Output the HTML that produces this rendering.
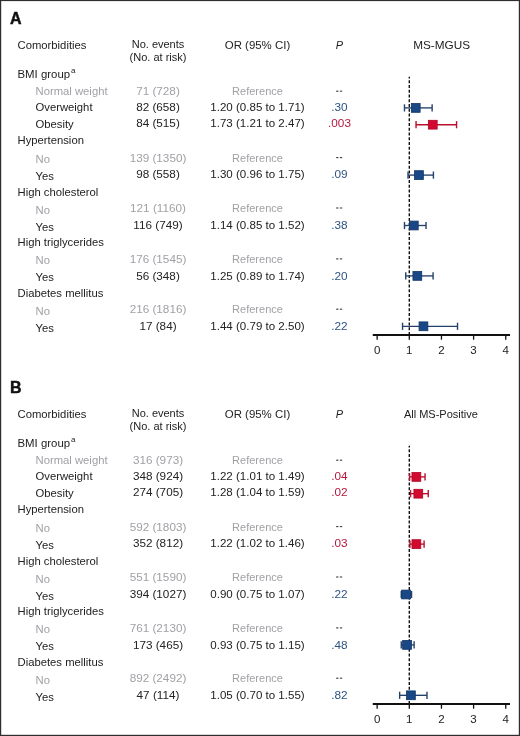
<!DOCTYPE html>
<html><head><meta charset="utf-8"><title>Forest plot</title>
<style>
html,body{margin:0;padding:0;background:#fff;}
body{width:520px;height:736px;overflow:hidden;}
svg{display:block;font-family:"Liberation Sans", sans-serif;will-change:transform;}
</style></head><body>
<svg width="520" height="736" viewBox="0 0 520 736">
<rect x="0" y="0" width="520" height="736" fill="#fff"/>
<g fill="#2e2e2e"><rect x="0" y="0" width="1.2" height="736"/><rect x="518.8" y="0" width="1.2" height="736"/><rect x="0" y="0" width="520" height="1.1"/><rect x="0" y="734.8" width="520" height="1.2"/></g>
<text x="10" y="24.10" font-size="16" font-weight="bold" fill="#111" stroke="#111" stroke-width="0.45">A</text>
<text x="17.50" y="49.00" text-anchor="start" fill="#222222" font-size="11" textLength="68.93" lengthAdjust="spacingAndGlyphs">Comorbidities</text>
<text x="158.00" y="47.60" text-anchor="middle" fill="#222222" font-size="11">No. events</text>
<text x="158.00" y="61.10" text-anchor="middle" fill="#222222" font-size="11">(No. at risk)</text>
<text x="257.50" y="48.80" text-anchor="middle" fill="#222222" font-size="11" textLength="65.47" lengthAdjust="spacingAndGlyphs">OR (95% CI)</text>
<text x="339.50" y="48.90" text-anchor="middle" fill="#222222" font-size="11" font-style="italic">P</text>
<text x="441.60" y="48.80" text-anchor="middle" fill="#222222" font-size="11" textLength="56.88" lengthAdjust="spacingAndGlyphs">MS-MGUS</text>
<text x="17.50" y="77.80" fill="#222222" font-size="11"><tspan textLength="52.6" lengthAdjust="spacingAndGlyphs">BMI group</tspan><tspan font-size="8" x="70.90" dy="-4.6">a</tspan></text>
<text x="35.50" y="94.50" text-anchor="start" fill="#a0a1a5" font-size="11" textLength="72.06" lengthAdjust="spacingAndGlyphs">Normal weight</text>
<text x="35.50" y="111.10" text-anchor="start" fill="#222222" font-size="11" textLength="57.02" lengthAdjust="spacingAndGlyphs">Overweight</text>
<text x="35.50" y="127.80" text-anchor="start" fill="#222222" font-size="11" textLength="38.22" lengthAdjust="spacingAndGlyphs">Obesity</text>
<text x="17.50" y="143.90" text-anchor="start" fill="#222222" font-size="11" textLength="66.43" lengthAdjust="spacingAndGlyphs">Hypertension</text>
<text x="35.50" y="163.10" text-anchor="start" fill="#a0a1a5" font-size="11" textLength="14.41" lengthAdjust="spacingAndGlyphs">No</text>
<text x="35.50" y="179.80" text-anchor="start" fill="#222222" font-size="11" textLength="18.39" lengthAdjust="spacingAndGlyphs">Yes</text>
<text x="17.50" y="196.30" text-anchor="start" fill="#222222" font-size="11" textLength="80.85" lengthAdjust="spacingAndGlyphs">High cholesterol</text>
<text x="35.50" y="214.10" text-anchor="start" fill="#a0a1a5" font-size="11" textLength="14.41" lengthAdjust="spacingAndGlyphs">No</text>
<text x="35.50" y="231.30" text-anchor="start" fill="#222222" font-size="11" textLength="18.39" lengthAdjust="spacingAndGlyphs">Yes</text>
<text x="17.50" y="245.60" text-anchor="start" fill="#222222" font-size="11" textLength="86.47" lengthAdjust="spacingAndGlyphs">High triglycerides</text>
<text x="35.50" y="264.30" text-anchor="start" fill="#a0a1a5" font-size="11" textLength="14.41" lengthAdjust="spacingAndGlyphs">No</text>
<text x="35.50" y="281.00" text-anchor="start" fill="#222222" font-size="11" textLength="18.39" lengthAdjust="spacingAndGlyphs">Yes</text>
<text x="17.50" y="296.80" text-anchor="start" fill="#222222" font-size="11" textLength="85.85" lengthAdjust="spacingAndGlyphs">Diabetes mellitus</text>
<text x="35.50" y="314.80" text-anchor="start" fill="#a0a1a5" font-size="11" textLength="14.41" lengthAdjust="spacingAndGlyphs">No</text>
<text x="35.50" y="331.70" text-anchor="start" fill="#222222" font-size="11" textLength="18.39" lengthAdjust="spacingAndGlyphs">Yes</text>
<text x="158.00" y="95.10" text-anchor="middle" fill="#a0a1a5" font-size="11" textLength="43.63" lengthAdjust="spacingAndGlyphs">71 (728)</text>
<text x="257.50" y="95.10" text-anchor="middle" fill="#a0a1a5" font-size="11">Reference</text>
<rect x="336.1" y="90.65" width="2.4" height="1.1" fill="#404040"/><rect x="339.9" y="90.65" width="2.3" height="1.1" fill="#404040"/>
<text x="158.00" y="111.20" text-anchor="middle" fill="#222222" font-size="11" textLength="43.63" lengthAdjust="spacingAndGlyphs">82 (658)</text>
<text x="257.50" y="111.20" text-anchor="middle" fill="#222222" font-size="11" textLength="94.39" lengthAdjust="spacingAndGlyphs">1.20 (0.85 to 1.71)</text>
<text x="339.50" y="111.20" text-anchor="middle" fill="#2b5282" font-size="11" textLength="16.36" lengthAdjust="spacingAndGlyphs">.30</text>
<text x="158.00" y="127.40" text-anchor="middle" fill="#222222" font-size="11" textLength="43.63" lengthAdjust="spacingAndGlyphs">84 (515)</text>
<text x="257.50" y="127.40" text-anchor="middle" fill="#222222" font-size="11" textLength="94.39" lengthAdjust="spacingAndGlyphs">1.73 (1.21 to 2.47)</text>
<text x="339.50" y="127.40" text-anchor="middle" fill="#b5173c" font-size="11" textLength="22.91" lengthAdjust="spacingAndGlyphs">.003</text>
<text x="158.00" y="161.50" text-anchor="middle" fill="#a0a1a5" font-size="11" textLength="56.66" lengthAdjust="spacingAndGlyphs">139 (1350)</text>
<text x="257.50" y="161.50" text-anchor="middle" fill="#a0a1a5" font-size="11">Reference</text>
<rect x="336.1" y="157.05" width="2.4" height="1.1" fill="#404040"/><rect x="339.9" y="157.05" width="2.3" height="1.1" fill="#404040"/>
<text x="158.00" y="178.20" text-anchor="middle" fill="#222222" font-size="11" textLength="43.63" lengthAdjust="spacingAndGlyphs">98 (558)</text>
<text x="257.50" y="178.20" text-anchor="middle" fill="#222222" font-size="11" textLength="94.39" lengthAdjust="spacingAndGlyphs">1.30 (0.96 to 1.75)</text>
<text x="339.50" y="178.20" text-anchor="middle" fill="#2b5282" font-size="11" textLength="16.36" lengthAdjust="spacingAndGlyphs">.09</text>
<text x="158.00" y="211.90" text-anchor="middle" fill="#a0a1a5" font-size="11" textLength="55.80" lengthAdjust="spacingAndGlyphs">121 (1160)</text>
<text x="257.50" y="211.90" text-anchor="middle" fill="#a0a1a5" font-size="11">Reference</text>
<rect x="336.1" y="207.45" width="2.4" height="1.1" fill="#404040"/><rect x="339.9" y="207.45" width="2.3" height="1.1" fill="#404040"/>
<text x="158.00" y="229.30" text-anchor="middle" fill="#222222" font-size="11" textLength="49.28" lengthAdjust="spacingAndGlyphs">116 (749)</text>
<text x="257.50" y="229.30" text-anchor="middle" fill="#222222" font-size="11" textLength="94.39" lengthAdjust="spacingAndGlyphs">1.14 (0.85 to 1.52)</text>
<text x="339.50" y="229.30" text-anchor="middle" fill="#2b5282" font-size="11" textLength="16.36" lengthAdjust="spacingAndGlyphs">.38</text>
<text x="158.00" y="262.80" text-anchor="middle" fill="#a0a1a5" font-size="11" textLength="56.66" lengthAdjust="spacingAndGlyphs">176 (1545)</text>
<text x="257.50" y="262.80" text-anchor="middle" fill="#a0a1a5" font-size="11">Reference</text>
<rect x="336.1" y="258.35" width="2.4" height="1.1" fill="#404040"/><rect x="339.9" y="258.35" width="2.3" height="1.1" fill="#404040"/>
<text x="158.00" y="279.60" text-anchor="middle" fill="#222222" font-size="11" textLength="43.63" lengthAdjust="spacingAndGlyphs">56 (348)</text>
<text x="257.50" y="279.60" text-anchor="middle" fill="#222222" font-size="11" textLength="94.39" lengthAdjust="spacingAndGlyphs">1.25 (0.89 to 1.74)</text>
<text x="339.50" y="279.60" text-anchor="middle" fill="#2b5282" font-size="11" textLength="16.36" lengthAdjust="spacingAndGlyphs">.20</text>
<text x="158.00" y="313.10" text-anchor="middle" fill="#a0a1a5" font-size="11" textLength="56.66" lengthAdjust="spacingAndGlyphs">216 (1816)</text>
<text x="257.50" y="313.10" text-anchor="middle" fill="#a0a1a5" font-size="11">Reference</text>
<rect x="336.1" y="308.65" width="2.4" height="1.1" fill="#404040"/><rect x="339.9" y="308.65" width="2.3" height="1.1" fill="#404040"/>
<text x="158.00" y="329.70" text-anchor="middle" fill="#222222" font-size="11" textLength="37.12" lengthAdjust="spacingAndGlyphs">17 (84)</text>
<text x="257.50" y="329.70" text-anchor="middle" fill="#222222" font-size="11" textLength="94.39" lengthAdjust="spacingAndGlyphs">1.44 (0.79 to 2.50)</text>
<text x="339.50" y="329.70" text-anchor="middle" fill="#2b5282" font-size="11" textLength="16.36" lengthAdjust="spacingAndGlyphs">.22</text>
<line x1="409.30" y1="76.70" x2="409.30" y2="335.00" stroke="#111" stroke-width="1.4" stroke-dasharray="3 1.75" stroke-dashoffset="1.3"/>
<line x1="404.48" y1="107.90" x2="432.13" y2="107.90" stroke="#25416a" stroke-width="1.35"/>
<line x1="404.48" y1="104.30" x2="404.48" y2="111.50" stroke="#25416a" stroke-width="1.4"/>
<line x1="432.13" y1="104.30" x2="432.13" y2="111.50" stroke="#25416a" stroke-width="1.4"/>
<rect x="411.33" y="103.50" width="8.80" height="8.80" fill="#1a4886" stroke="#0f3668" stroke-width="0.8"/>
<line x1="416.05" y1="124.70" x2="456.56" y2="124.70" stroke="#bb0f2d" stroke-width="1.35"/>
<line x1="416.05" y1="121.10" x2="416.05" y2="128.30" stroke="#bb0f2d" stroke-width="1.4"/>
<line x1="456.56" y1="121.10" x2="456.56" y2="128.30" stroke="#bb0f2d" stroke-width="1.4"/>
<rect x="428.37" y="120.30" width="8.80" height="8.80" fill="#d20a2f" stroke="#ad0625" stroke-width="0.8"/>
<line x1="408.01" y1="175.10" x2="433.41" y2="175.10" stroke="#25416a" stroke-width="1.35"/>
<line x1="408.01" y1="171.50" x2="408.01" y2="178.70" stroke="#25416a" stroke-width="1.4"/>
<line x1="433.41" y1="171.50" x2="433.41" y2="178.70" stroke="#25416a" stroke-width="1.4"/>
<rect x="414.55" y="170.70" width="8.80" height="8.80" fill="#1a4886" stroke="#0f3668" stroke-width="0.8"/>
<line x1="404.48" y1="225.50" x2="426.02" y2="225.50" stroke="#25416a" stroke-width="1.35"/>
<line x1="404.48" y1="221.90" x2="404.48" y2="229.10" stroke="#25416a" stroke-width="1.4"/>
<line x1="426.02" y1="221.90" x2="426.02" y2="229.10" stroke="#25416a" stroke-width="1.4"/>
<rect x="409.40" y="221.10" width="8.80" height="8.80" fill="#1a4886" stroke="#0f3668" stroke-width="0.8"/>
<line x1="405.76" y1="275.90" x2="433.09" y2="275.90" stroke="#25416a" stroke-width="1.35"/>
<line x1="405.76" y1="272.30" x2="405.76" y2="279.50" stroke="#25416a" stroke-width="1.4"/>
<line x1="433.09" y1="272.30" x2="433.09" y2="279.50" stroke="#25416a" stroke-width="1.4"/>
<rect x="412.94" y="271.50" width="8.80" height="8.80" fill="#1a4886" stroke="#0f3668" stroke-width="0.8"/>
<line x1="402.55" y1="326.30" x2="457.52" y2="326.30" stroke="#25416a" stroke-width="1.35"/>
<line x1="402.55" y1="322.70" x2="402.55" y2="329.90" stroke="#25416a" stroke-width="1.4"/>
<line x1="457.52" y1="322.70" x2="457.52" y2="329.90" stroke="#25416a" stroke-width="1.4"/>
<rect x="419.05" y="321.90" width="8.80" height="8.80" fill="#1a4886" stroke="#0f3668" stroke-width="0.8"/>
<line x1="372.75" y1="335.10" x2="510" y2="335.10" stroke="#111" stroke-width="2"/>
<line x1="377.15" y1="335.00" x2="377.15" y2="339.70" stroke="#111" stroke-width="1.3"/>
<text x="377.15" y="353.60" text-anchor="middle" fill="#222222" font-size="10.5" textLength="6.42" lengthAdjust="spacingAndGlyphs">0</text>
<line x1="409.30" y1="335.00" x2="409.30" y2="339.70" stroke="#111" stroke-width="1.3"/>
<text x="409.30" y="353.60" text-anchor="middle" fill="#222222" font-size="10.5" textLength="6.42" lengthAdjust="spacingAndGlyphs">1</text>
<line x1="441.45" y1="335.00" x2="441.45" y2="339.70" stroke="#111" stroke-width="1.3"/>
<text x="441.45" y="353.60" text-anchor="middle" fill="#222222" font-size="10.5" textLength="6.42" lengthAdjust="spacingAndGlyphs">2</text>
<line x1="473.60" y1="335.00" x2="473.60" y2="339.70" stroke="#111" stroke-width="1.3"/>
<text x="473.60" y="353.60" text-anchor="middle" fill="#222222" font-size="10.5" textLength="6.42" lengthAdjust="spacingAndGlyphs">3</text>
<line x1="505.75" y1="335.00" x2="505.75" y2="339.70" stroke="#111" stroke-width="1.3"/>
<text x="505.75" y="353.60" text-anchor="middle" fill="#222222" font-size="10.5" textLength="6.42" lengthAdjust="spacingAndGlyphs">4</text>
<text x="10" y="393.10" font-size="16" font-weight="bold" fill="#111" stroke="#111" stroke-width="0.45">B</text>
<text x="17.50" y="418.00" text-anchor="start" fill="#222222" font-size="11" textLength="68.93" lengthAdjust="spacingAndGlyphs">Comorbidities</text>
<text x="158.00" y="416.60" text-anchor="middle" fill="#222222" font-size="11">No. events</text>
<text x="158.00" y="430.10" text-anchor="middle" fill="#222222" font-size="11">(No. at risk)</text>
<text x="257.50" y="417.80" text-anchor="middle" fill="#222222" font-size="11" textLength="65.47" lengthAdjust="spacingAndGlyphs">OR (95% CI)</text>
<text x="339.50" y="417.90" text-anchor="middle" fill="#222222" font-size="11" font-style="italic">P</text>
<text x="440.90" y="417.80" text-anchor="middle" fill="#222222" font-size="11">All MS-Positive</text>
<text x="17.50" y="446.80" fill="#222222" font-size="11"><tspan textLength="52.6" lengthAdjust="spacingAndGlyphs">BMI group</tspan><tspan font-size="8" x="70.90" dy="-4.6">a</tspan></text>
<text x="35.50" y="463.50" text-anchor="start" fill="#a0a1a5" font-size="11" textLength="72.06" lengthAdjust="spacingAndGlyphs">Normal weight</text>
<text x="35.50" y="480.10" text-anchor="start" fill="#222222" font-size="11" textLength="57.02" lengthAdjust="spacingAndGlyphs">Overweight</text>
<text x="35.50" y="496.80" text-anchor="start" fill="#222222" font-size="11" textLength="38.22" lengthAdjust="spacingAndGlyphs">Obesity</text>
<text x="17.50" y="512.90" text-anchor="start" fill="#222222" font-size="11" textLength="66.43" lengthAdjust="spacingAndGlyphs">Hypertension</text>
<text x="35.50" y="532.10" text-anchor="start" fill="#a0a1a5" font-size="11" textLength="14.41" lengthAdjust="spacingAndGlyphs">No</text>
<text x="35.50" y="548.80" text-anchor="start" fill="#222222" font-size="11" textLength="18.39" lengthAdjust="spacingAndGlyphs">Yes</text>
<text x="17.50" y="565.30" text-anchor="start" fill="#222222" font-size="11" textLength="80.85" lengthAdjust="spacingAndGlyphs">High cholesterol</text>
<text x="35.50" y="583.10" text-anchor="start" fill="#a0a1a5" font-size="11" textLength="14.41" lengthAdjust="spacingAndGlyphs">No</text>
<text x="35.50" y="600.30" text-anchor="start" fill="#222222" font-size="11" textLength="18.39" lengthAdjust="spacingAndGlyphs">Yes</text>
<text x="17.50" y="614.60" text-anchor="start" fill="#222222" font-size="11" textLength="86.47" lengthAdjust="spacingAndGlyphs">High triglycerides</text>
<text x="35.50" y="633.30" text-anchor="start" fill="#a0a1a5" font-size="11" textLength="14.41" lengthAdjust="spacingAndGlyphs">No</text>
<text x="35.50" y="650.00" text-anchor="start" fill="#222222" font-size="11" textLength="18.39" lengthAdjust="spacingAndGlyphs">Yes</text>
<text x="17.50" y="665.80" text-anchor="start" fill="#222222" font-size="11" textLength="85.85" lengthAdjust="spacingAndGlyphs">Diabetes mellitus</text>
<text x="35.50" y="683.80" text-anchor="start" fill="#a0a1a5" font-size="11" textLength="14.41" lengthAdjust="spacingAndGlyphs">No</text>
<text x="35.50" y="700.70" text-anchor="start" fill="#222222" font-size="11" textLength="18.39" lengthAdjust="spacingAndGlyphs">Yes</text>
<text x="158.00" y="464.10" text-anchor="middle" fill="#a0a1a5" font-size="11" textLength="50.15" lengthAdjust="spacingAndGlyphs">316 (973)</text>
<text x="257.50" y="464.10" text-anchor="middle" fill="#a0a1a5" font-size="11">Reference</text>
<rect x="336.1" y="459.65" width="2.4" height="1.1" fill="#404040"/><rect x="339.9" y="459.65" width="2.3" height="1.1" fill="#404040"/>
<text x="158.00" y="480.20" text-anchor="middle" fill="#222222" font-size="11" textLength="50.15" lengthAdjust="spacingAndGlyphs">348 (924)</text>
<text x="257.50" y="480.20" text-anchor="middle" fill="#222222" font-size="11" textLength="94.39" lengthAdjust="spacingAndGlyphs">1.22 (1.01 to 1.49)</text>
<text x="339.50" y="480.20" text-anchor="middle" fill="#b5173c" font-size="11" textLength="16.36" lengthAdjust="spacingAndGlyphs">.04</text>
<text x="158.00" y="496.40" text-anchor="middle" fill="#222222" font-size="11" textLength="50.15" lengthAdjust="spacingAndGlyphs">274 (705)</text>
<text x="257.50" y="496.40" text-anchor="middle" fill="#222222" font-size="11" textLength="94.39" lengthAdjust="spacingAndGlyphs">1.28 (1.04 to 1.59)</text>
<text x="339.50" y="496.40" text-anchor="middle" fill="#b5173c" font-size="11" textLength="16.36" lengthAdjust="spacingAndGlyphs">.02</text>
<text x="158.00" y="530.50" text-anchor="middle" fill="#a0a1a5" font-size="11" textLength="56.66" lengthAdjust="spacingAndGlyphs">592 (1803)</text>
<text x="257.50" y="530.50" text-anchor="middle" fill="#a0a1a5" font-size="11">Reference</text>
<rect x="336.1" y="526.05" width="2.4" height="1.1" fill="#404040"/><rect x="339.9" y="526.05" width="2.3" height="1.1" fill="#404040"/>
<text x="158.00" y="547.20" text-anchor="middle" fill="#222222" font-size="11" textLength="50.15" lengthAdjust="spacingAndGlyphs">352 (812)</text>
<text x="257.50" y="547.20" text-anchor="middle" fill="#222222" font-size="11" textLength="94.39" lengthAdjust="spacingAndGlyphs">1.22 (1.02 to 1.46)</text>
<text x="339.50" y="547.20" text-anchor="middle" fill="#b5173c" font-size="11" textLength="16.36" lengthAdjust="spacingAndGlyphs">.03</text>
<text x="158.00" y="580.90" text-anchor="middle" fill="#a0a1a5" font-size="11" textLength="56.66" lengthAdjust="spacingAndGlyphs">551 (1590)</text>
<text x="257.50" y="580.90" text-anchor="middle" fill="#a0a1a5" font-size="11">Reference</text>
<rect x="336.1" y="576.45" width="2.4" height="1.1" fill="#404040"/><rect x="339.9" y="576.45" width="2.3" height="1.1" fill="#404040"/>
<text x="158.00" y="598.30" text-anchor="middle" fill="#222222" font-size="11" textLength="56.66" lengthAdjust="spacingAndGlyphs">394 (1027)</text>
<text x="257.50" y="598.30" text-anchor="middle" fill="#222222" font-size="11" textLength="94.39" lengthAdjust="spacingAndGlyphs">0.90 (0.75 to 1.07)</text>
<text x="339.50" y="598.30" text-anchor="middle" fill="#2b5282" font-size="11" textLength="16.36" lengthAdjust="spacingAndGlyphs">.22</text>
<text x="158.00" y="631.80" text-anchor="middle" fill="#a0a1a5" font-size="11" textLength="56.66" lengthAdjust="spacingAndGlyphs">761 (2130)</text>
<text x="257.50" y="631.80" text-anchor="middle" fill="#a0a1a5" font-size="11">Reference</text>
<rect x="336.1" y="627.35" width="2.4" height="1.1" fill="#404040"/><rect x="339.9" y="627.35" width="2.3" height="1.1" fill="#404040"/>
<text x="158.00" y="648.60" text-anchor="middle" fill="#222222" font-size="11" textLength="50.15" lengthAdjust="spacingAndGlyphs">173 (465)</text>
<text x="257.50" y="648.60" text-anchor="middle" fill="#222222" font-size="11" textLength="94.39" lengthAdjust="spacingAndGlyphs">0.93 (0.75 to 1.15)</text>
<text x="339.50" y="648.60" text-anchor="middle" fill="#2b5282" font-size="11" textLength="16.36" lengthAdjust="spacingAndGlyphs">.48</text>
<text x="158.00" y="682.10" text-anchor="middle" fill="#a0a1a5" font-size="11" textLength="56.66" lengthAdjust="spacingAndGlyphs">892 (2492)</text>
<text x="257.50" y="682.10" text-anchor="middle" fill="#a0a1a5" font-size="11">Reference</text>
<rect x="336.1" y="677.65" width="2.4" height="1.1" fill="#404040"/><rect x="339.9" y="677.65" width="2.3" height="1.1" fill="#404040"/>
<text x="158.00" y="698.70" text-anchor="middle" fill="#222222" font-size="11" textLength="42.76" lengthAdjust="spacingAndGlyphs">47 (114)</text>
<text x="257.50" y="698.70" text-anchor="middle" fill="#222222" font-size="11" textLength="94.39" lengthAdjust="spacingAndGlyphs">1.05 (0.70 to 1.55)</text>
<text x="339.50" y="698.70" text-anchor="middle" fill="#2b5282" font-size="11" textLength="16.36" lengthAdjust="spacingAndGlyphs">.82</text>
<line x1="409.30" y1="445.70" x2="409.30" y2="704.00" stroke="#111" stroke-width="1.4" stroke-dasharray="3 1.75" stroke-dashoffset="1.3"/>
<line x1="409.62" y1="476.90" x2="425.05" y2="476.90" stroke="#bb0f2d" stroke-width="1.35"/>
<line x1="409.62" y1="473.30" x2="409.62" y2="480.50" stroke="#bb0f2d" stroke-width="1.4"/>
<line x1="425.05" y1="473.30" x2="425.05" y2="480.50" stroke="#bb0f2d" stroke-width="1.4"/>
<rect x="411.97" y="472.50" width="8.80" height="8.80" fill="#d20a2f" stroke="#ad0625" stroke-width="0.8"/>
<line x1="410.59" y1="493.70" x2="428.27" y2="493.70" stroke="#bb0f2d" stroke-width="1.35"/>
<line x1="410.59" y1="490.10" x2="410.59" y2="497.30" stroke="#bb0f2d" stroke-width="1.4"/>
<line x1="428.27" y1="490.10" x2="428.27" y2="497.30" stroke="#bb0f2d" stroke-width="1.4"/>
<rect x="413.90" y="489.30" width="8.80" height="8.80" fill="#d20a2f" stroke="#ad0625" stroke-width="0.8"/>
<line x1="409.94" y1="544.10" x2="424.09" y2="544.10" stroke="#bb0f2d" stroke-width="1.35"/>
<line x1="409.94" y1="540.50" x2="409.94" y2="547.70" stroke="#bb0f2d" stroke-width="1.4"/>
<line x1="424.09" y1="540.50" x2="424.09" y2="547.70" stroke="#bb0f2d" stroke-width="1.4"/>
<rect x="411.97" y="539.70" width="8.80" height="8.80" fill="#d20a2f" stroke="#ad0625" stroke-width="0.8"/>
<line x1="401.26" y1="594.50" x2="411.55" y2="594.50" stroke="#25416a" stroke-width="1.35"/>
<line x1="401.26" y1="590.90" x2="401.26" y2="598.10" stroke="#25416a" stroke-width="1.4"/>
<line x1="411.55" y1="590.90" x2="411.55" y2="598.10" stroke="#25416a" stroke-width="1.4"/>
<rect x="401.69" y="590.10" width="8.80" height="8.80" fill="#1a4886" stroke="#0f3668" stroke-width="0.8"/>
<line x1="401.26" y1="644.90" x2="414.12" y2="644.90" stroke="#25416a" stroke-width="1.35"/>
<line x1="401.26" y1="641.30" x2="401.26" y2="648.50" stroke="#25416a" stroke-width="1.4"/>
<line x1="414.12" y1="641.30" x2="414.12" y2="648.50" stroke="#25416a" stroke-width="1.4"/>
<rect x="402.65" y="640.50" width="8.80" height="8.80" fill="#1a4886" stroke="#0f3668" stroke-width="0.8"/>
<line x1="399.65" y1="695.30" x2="426.98" y2="695.30" stroke="#25416a" stroke-width="1.35"/>
<line x1="399.65" y1="691.70" x2="399.65" y2="698.90" stroke="#25416a" stroke-width="1.4"/>
<line x1="426.98" y1="691.70" x2="426.98" y2="698.90" stroke="#25416a" stroke-width="1.4"/>
<rect x="406.51" y="690.90" width="8.80" height="8.80" fill="#1a4886" stroke="#0f3668" stroke-width="0.8"/>
<line x1="372.75" y1="704.10" x2="510" y2="704.10" stroke="#111" stroke-width="2"/>
<line x1="377.15" y1="704.00" x2="377.15" y2="708.70" stroke="#111" stroke-width="1.3"/>
<text x="377.15" y="722.60" text-anchor="middle" fill="#222222" font-size="10.5" textLength="6.42" lengthAdjust="spacingAndGlyphs">0</text>
<line x1="409.30" y1="704.00" x2="409.30" y2="708.70" stroke="#111" stroke-width="1.3"/>
<text x="409.30" y="722.60" text-anchor="middle" fill="#222222" font-size="10.5" textLength="6.42" lengthAdjust="spacingAndGlyphs">1</text>
<line x1="441.45" y1="704.00" x2="441.45" y2="708.70" stroke="#111" stroke-width="1.3"/>
<text x="441.45" y="722.60" text-anchor="middle" fill="#222222" font-size="10.5" textLength="6.42" lengthAdjust="spacingAndGlyphs">2</text>
<line x1="473.60" y1="704.00" x2="473.60" y2="708.70" stroke="#111" stroke-width="1.3"/>
<text x="473.60" y="722.60" text-anchor="middle" fill="#222222" font-size="10.5" textLength="6.42" lengthAdjust="spacingAndGlyphs">3</text>
<line x1="505.75" y1="704.00" x2="505.75" y2="708.70" stroke="#111" stroke-width="1.3"/>
<text x="505.75" y="722.60" text-anchor="middle" fill="#222222" font-size="10.5" textLength="6.42" lengthAdjust="spacingAndGlyphs">4</text>
</svg>
</body></html>
